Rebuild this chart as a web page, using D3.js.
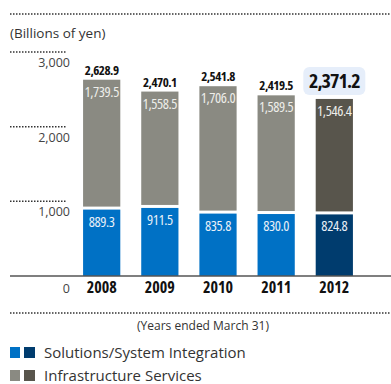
<!DOCTYPE html>
<html>
<head>
<meta charset="utf-8">
<script src="https://cdn.jsdelivr.net/npm/d3@7"></script>
<style>
  body { margin: 0; background: #fff; }
  svg text { font-family: "Open Sans", sans-serif; }
  svg text.narrow { font-stretch: condensed; }
</style>
</head>
<body>
<div id="chart"></div>
<script>
// data
var years = ["2008", "2009", "2010", "2011", "2012"];
var solutions = [889.3, 911.5, 835.8, 830.0, 824.8];
var infra = [1739.5, 1558.5, 1706.0, 1589.5, 1546.4];
var totals = [2628.9, 2470.1, 2541.8, 2419.5, 2371.2];
var yTicks = [1000, 2000, 3000];
var seriesNames = ["Solutions/System Integration", "Infrastructure Services"];

var width = 391, height = 384;
var fmt = d3.format(",.1f");

var svg = d3.select("#chart").append("svg")
    .attr("width", width)
    .attr("height", height);

var xScale = d3.scaleBand()
    .domain(years)
    .range([54, 382])
    .paddingInner(0.36)
    .paddingOuter(0.5);

var yScale = d3.scaleLinear()
    .domain([0, 3000])
    .range([276, 52]);

// top dotted rule + unit
svg.append("line")
    .attr("x1", 10).attr("x2", width).attr("y1", 14).attr("y2", 14)
    .attr("stroke", "#333").attr("stroke-width", 1.5)
    .attr("stroke-dasharray", "1.5,1.5");

svg.append("text")
    .attr("x", 10).attr("y", 38)
    .attr("font-size", "13.5px").attr("fill", "#333")
    .text("(Billions of yen)");

// short dotted gridlines with labels underneath
var ticks = svg.append("g");
ticks.selectAll("line")
    .data(yTicks)
    .enter()
    .append("line")
        .attr("x1", 10).attr("x2", 67)
        .attr("y1", d => yScale(d)).attr("y2", d => yScale(d))
        .attr("stroke", "#333").attr("stroke-width", 1.5)
        .attr("stroke-dasharray", "1.5,1.5");
ticks.selectAll("text")
    .data(yTicks)
    .enter()
    .append("text")
        .attr("x", 70)
        .attr("y", d => yScale(d) + 15)
        .attr("text-anchor", "end")
        .attr("font-size", "12.5px").attr("fill", "#444")
        .text(d => d3.format(",")(d));

svg.append("text")
    .attr("x", 70).attr("y", yScale(0) + 17)
    .attr("text-anchor", "end")
    .attr("font-size", "12.5px").attr("fill", "#444")
    .text("0");

var last = years.length - 1;
function blueColor(i) { return i == last ? "#003c6e" : "#0071c5"; }
function grayColor(i) { return i == last ? "#58554c" : "#8a8a82"; }

// stacked bars
var bars = svg.append("g");
bars.selectAll(".sol")
    .data(solutions)
    .enter()
    .append("rect")
        .attr("class", "sol")
        .attr("x", (d, i) => xScale(years[i]))
        .attr("y", d => yScale(d))
        .attr("width", xScale.bandwidth())
        .attr("height", d => yScale(0) - yScale(d))
        .attr("fill", (d, i) => blueColor(i));

bars.selectAll(".inf")
    .data(infra)
    .enter()
    .append("rect")
        .attr("class", "inf")
        .attr("x", (d, i) => xScale(years[i]))
        .attr("y", (d, i) => yScale(solutions[i] + d))
        .attr("width", xScale.bandwidth())
        .attr("height", (d, i) => yScale(solutions[i]) - yScale(solutions[i] + d) - 3)
        .attr("fill", (d, i) => grayColor(i));

// values inside segments
bars.selectAll(".solLabel")
    .data(solutions)
    .enter()
    .append("text")
        .attr("class", "narrow")
        .attr("x", (d, i) => xScale(years[i]) + xScale.bandwidth() / 2)
        .attr("y", d => yScale(d) + 17)
        .attr("text-anchor", "middle")
        .attr("font-size", "14.5px").attr("letter-spacing", "-0.4px")
        .attr("fill", "#e8f0f8")
        .text(d => fmt(d));

bars.selectAll(".infLabel")
    .data(infra)
    .enter()
    .append("text")
        .attr("class", "narrow")
        .attr("x", (d, i) => xScale(years[i]) + xScale.bandwidth() / 2)
        .attr("y", (d, i) => yScale(solutions[i] + d) + 17)
        .attr("text-anchor", "middle")
        .attr("font-size", "14.5px").attr("letter-spacing", "-0.4px")
        .attr("fill", "#eeeeea")
        .text(d => fmt(d));

// totals above bars
var lastX = xScale(years[last]) + xScale.bandwidth() / 2;
svg.append("rect")
    .attr("x", lastX - 31).attr("y", yScale(totals[last]) - 32)
    .attr("width", 62).attr("height", 28)
    .attr("rx", 6)
    .attr("fill", "#e6eefa");

svg.selectAll(".total")
    .data(totals)
    .enter()
    .append("text")
        .attr("class", "narrow")
        .attr("x", (d, i) => xScale(years[i]) + xScale.bandwidth() / 2)
        .attr("y", (d, i) => i == last ? yScale(d) - 11 : yScale(d) - 5)
        .attr("text-anchor", "middle")
        .attr("font-weight", "bold")
        .attr("font-size", (d, i) => i == last ? "20px" : "13px")
        .attr("letter-spacing", (d, i) => i == last ? "-0.9px" : "-0.5px")
        .attr("fill", "#111")
        .text(d => fmt(d));

// baseline + year labels
svg.append("line")
    .attr("x1", 10).attr("x2", width)
    .attr("y1", yScale(0)).attr("y2", yScale(0))
    .attr("stroke", "#555").attr("stroke-width", 1.5);

svg.append("g")
    .attr("transform", "translate(0," + yScale(0) + ")")
    .call(d3.axisBottom(xScale).tickSize(0).tickPadding(6))
    .call(g => g.select(".domain").remove())
    .selectAll("text")
        .attr("class", "narrow")
        .attr("font-family", null)
        .attr("font-size", "16px")
        .attr("font-weight", "bold")
        .attr("fill", "#111");

// bottom dotted rule + note
svg.append("line")
    .attr("x1", 10).attr("x2", width).attr("y1", 313).attr("y2", 313)
    .attr("stroke", "#333").attr("stroke-width", 1.5)
    .attr("stroke-dasharray", "1.5,1.5");

svg.append("text")
    .attr("x", 203).attr("y", 330)
    .attr("text-anchor", "middle")
    .attr("font-size", "12px").attr("fill", "#333")
    .text("(Years ended March 31)");

// legend
var legendColors = [["#0071c5", "#003c6e"], ["#8a8a82", "#58554c"]];
var legend = svg.selectAll(".legend")
    .data(seriesNames)
    .enter()
    .append("g")
        .attr("transform", (d, i) => "translate(10," + (347 + i * 23) + ")");
legend.append("rect")
    .attr("width", 10).attr("height", 11)
    .attr("fill", (d, i) => legendColors[i][0]);
legend.append("rect")
    .attr("x", 14).attr("width", 11).attr("height", 11)
    .attr("fill", (d, i) => legendColors[i][1]);
legend.append("text")
    .attr("x", 34).attr("y", 11)
    .attr("font-size", "15px").attr("fill", "#333")
    .text(d => d);
</script>
</body>
</html>
